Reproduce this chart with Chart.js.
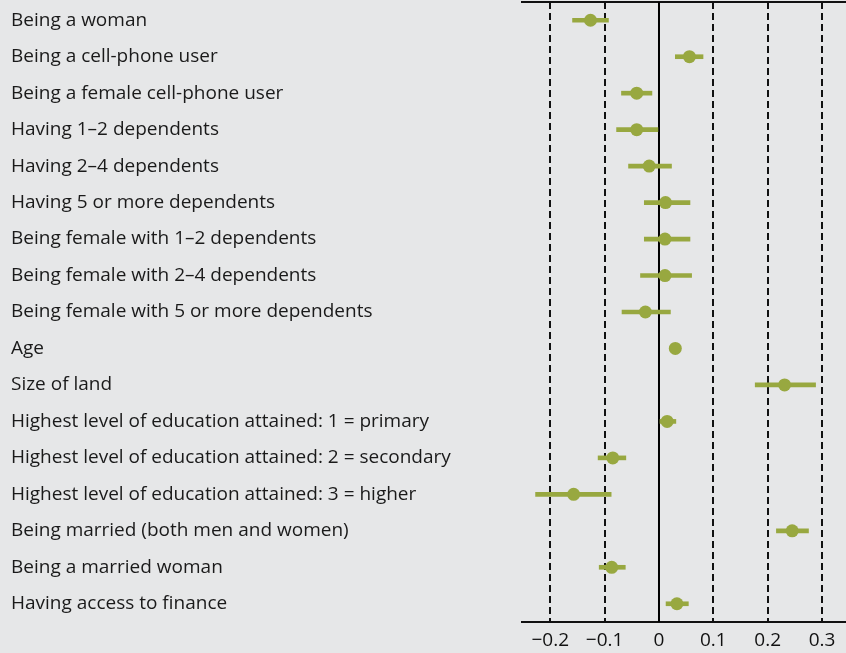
<!DOCTYPE html>
<html>
<head>
<meta charset="utf-8">
<script src="https://cdn.jsdelivr.net/npm/chart.js@4"></script>
<style>
  html, body { margin: 0; padding: 0; background: #e6e7e8; }
  #wrap { width: 846px; height: 653px; }
</style>
</head>
<body>
<div id="wrap"><canvas id="coefChart"></canvas></div>
<script>
// Coefficient plot: point estimates with confidence intervals
const categories = [
    'Being a woman',
    'Being a cell-phone user',
    'Being a female cell-phone user',
    'Having 1–2 dependents',
    'Having 2–4 dependents',
    'Having 5 or more dependents',
    'Being female with 1–2 dependents',
    'Being female with 2–4 dependents',
    'Being female with 5 or more dependents',
    'Age',
    'Size of land',
    'Highest level of education attained: 1 = primary',
    'Highest level of education attained: 2 = secondary',
    'Highest level of education attained: 3 = higher',
    'Being married (both men and women)',
    'Being a married woman',
    'Having access to finance'
];
const estimates = [-0.126, 0.056, -0.041, -0.041, -0.018, 0.012, 0.011, 0.011, -0.025, 0.030, 0.231, 0.015, -0.085, -0.157, 0.245, -0.087, 0.033];
const lower = [-0.159, 0.030, -0.069, -0.078, -0.056, -0.027, -0.027, -0.034, -0.068, 0.027, 0.177, 0.000, -0.112, -0.227, 0.216, -0.110, 0.013];
const upper = [-0.093, 0.081, -0.013, -0.002, 0.023, 0.057, 0.057, 0.060, 0.021, 0.033, 0.288, 0.031, -0.061, -0.088, 0.275, -0.062, 0.054];
const xTicks = [-0.2, -0.1, 0, 0.1, 0.2, 0.3];
const xTickLabels = ['−0.2', '−0.1', '0', '0.1', '0.2', '0.3'];

const olive = '#98a840';
const xMin = -0.252, xMax = 0.344;
const fontFamily = '"Open Sans", sans-serif';

// solid line at zero
const zeroLine = {
    id: 'zeroLine',
    beforeDatasetsDraw(chart) {
        const { ctx, chartArea, scales } = chart;
        const x = scales.x.getPixelForValue(0);
        ctx.save();
        ctx.strokeStyle = '#000';
        ctx.lineWidth = 2;
        ctx.beginPath();
        ctx.moveTo(x, chartArea.top);
        ctx.lineTo(x, chartArea.bottom);
        ctx.stroke();
        ctx.restore();
    }
};

const ctx = document.getElementById('coefChart').getContext('2d');
const coefChart = new Chart(ctx, {
    type: 'bar',
    data: {
        labels: categories,
        datasets: [{
            label: 'Confidence interval',
            data: lower.map((l, i) => [l, upper[i]]),
            backgroundColor: olive,
            borderWidth: 0,
            borderSkipped: false,
            barThickness: 4,
            order: 2
        }, {
            type: 'line',
            label: 'Estimate',
            indexAxis: 'y',
            data: estimates,
            showLine: false,
            pointRadius: 6.5,
            pointHoverRadius: 6.5,
            pointBackgroundColor: olive,
            pointBorderWidth: 0,
            order: 1
        }]
    },
    options: {
        indexAxis: 'y',
        responsive: true,
        maintainAspectRatio: false,
        animation: false,
        layout: { autoPadding: false, padding: { left: 11, right: 0, top: 2, bottom: 0 } },
        plugins: {
            legend: { display: false },
            tooltip: { enabled: false }
        },
        scales: {
            x: {
                type: 'linear',
                position: 'bottom',
                min: xMin,
                max: xMax,
                afterBuildTicks: s => { s.ticks = xTicks.map(v => ({ value: v })); },
                afterFit: s => { s.paddingLeft = 0; s.paddingRight = 0; s.height = 31; },
                ticks: {
                    color: '#111',
                    padding: 7,
                    font: { family: fontFamily, size: 19 },
                    callback: (v) => xTickLabels[xTicks.indexOf(v)]
                },
                grid: {
                    color: c => (c.tick && c.tick.value === 0) ? 'rgba(0,0,0,0)' : '#111',
                    lineWidth: 2,
                    drawTicks: false
                },
                border: { display: true, color: '#111', width: 2, dash: [7, 4] }
            },
            x2: {
                type: 'linear',
                position: 'top',
                min: xMin,
                max: xMax,
                afterFit: s => { s.height = 0; s.paddingLeft = 0; s.paddingRight = 0; },
                grid: { display: false, drawTicks: false },
                ticks: { display: false },
                border: { display: true, color: '#111', width: 2 }
            },
            y: {
                type: 'category',
                labels: categories,
                afterFit: s => { s.width = 511; s.paddingTop = 0; s.paddingBottom = 0; },
                ticks: {
                    crossAlign: 'far',
                    padding: 0,
                    color: '#1a1a1a',
                    font: { family: fontFamily, size: 19 }
                },
                grid: { display: false, drawTicks: false },
                border: { display: false }
            }
        }
    },
    plugins: [zeroLine]
});
</script>
</body>
</html>
